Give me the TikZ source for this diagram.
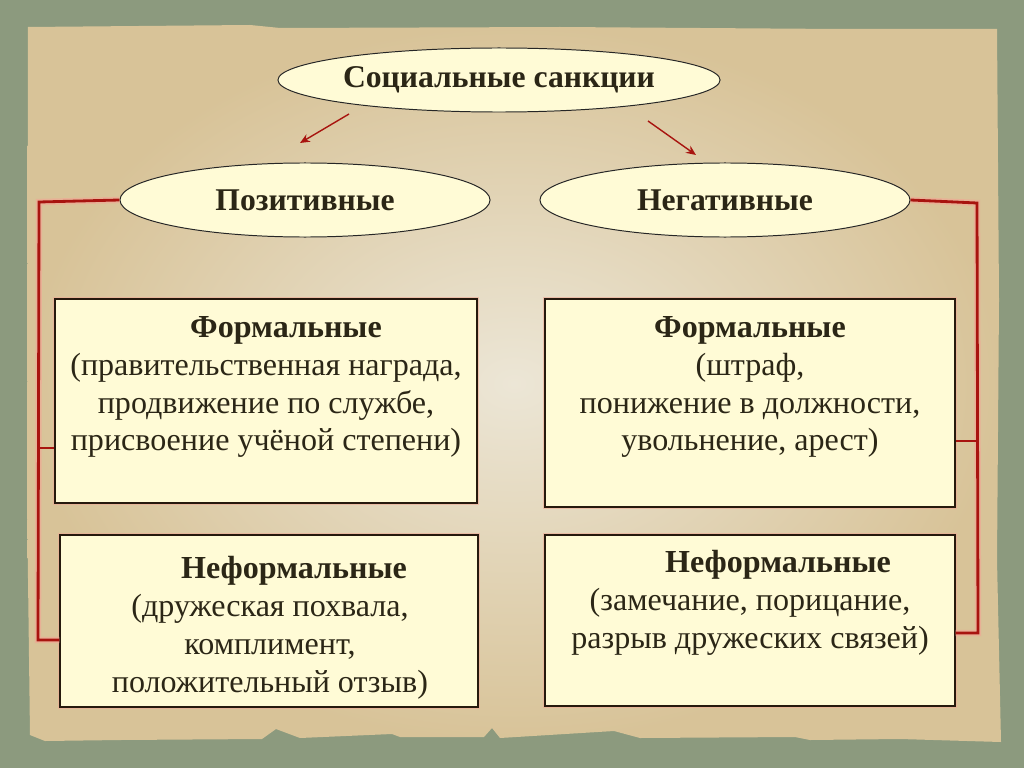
\documentclass[tikz,border=0pt]{standalone}
\usepackage{fontspec}
\setmainfont{Liberation Serif}
\usepackage{xcolor}
\usetikzlibrary{arrows.meta,shapes.geometric}

\definecolor{felt}{HTML}{8C9A7E}
\definecolor{paperin}{HTML}{ECE6D6}
\definecolor{paperout}{HTML}{D8C398}
\definecolor{cream}{HTML}{FFFBD6}
\definecolor{sanred}{HTML}{A8140F}
\definecolor{halo}{HTML}{EFA995}
\definecolor{ink}{HTML}{2B2616}

\tikzset{
  oval/.style={ellipse, draw=black!85, line width=0.7pt, fill=cream,
    inner sep=0pt, text=ink, font=\fontsize{22.5}{26}\selectfont\bfseries},
  card/.style={rectangle, draw=black!80!brown, line width=0.9pt, fill=cream,
    preaction={draw=halo, line width=3pt, opacity=0.6}},
  txt/.style={align=center, inner sep=0pt, text=ink,
    font=\fontsize{22.8}{27}\selectfont},
  bracket/.style={draw=sanred, line width=2pt, line join=miter,
    preaction={draw=halo, line width=4.5pt, opacity=0.7}},
  pointer/.style={draw=sanred, line width=1pt, -{Stealth[length=7pt,width=6pt]}}
}

\begin{document}
\begin{tikzpicture}[x=0.025cm,y=-0.025cm]
  \useasboundingbox (0,0) rectangle (1024,768);
  \fill[felt] (0,0) rectangle (1024,768);
  % paper sheet
  \shade[inner color=paperin, outer color=paperout]
    (28,27) -- (250,25) -- (280,28) -- (560,27) -- (840,29) -- (997,29)
    -- (999,300) -- (997,560) -- (1001,742)
    -- (900,739) -- (810,740) -- (795,737) -- (640,738) -- (614,731)
    -- (500,738) -- (492,728) -- (484,737) -- (400,737) -- (392,734)
    -- (300,738) -- (276,729) -- (262,739) -- (120,740) -- (45,741)
    -- (30,735) -- (27,500) -- cycle;

  % ellipses
  \node[oval, minimum width=11.05cm, minimum height=1.6cm] (root) at (499,80) {Социальные санкции};
  \node[oval, minimum width=9.25cm, minimum height=1.85cm] (pos) at (305,200) {Позитивные};
  \node[oval, minimum width=9.25cm, minimum height=1.85cm] (neg) at (725,200) {Негативные};

  % boxes
  \node[card, minimum width=10.55cm, minimum height=5.1cm] (f-pos) at (266,401) {};
  \node[card, minimum width=10.45cm, minimum height=4.3cm] (nf-pos) at (269,621) {};
  \node[card, minimum width=10.25cm, minimum height=5.2cm] (f-neg) at (750,403) {};
  \node[card, minimum width=10.25cm, minimum height=4.28cm] (nf-neg) at (750,620.5) {};

  % texts
  \node[txt] (f-pos-t) at (266,387) {\hspace*{1cm}\textbf{Формальные}\\
    (правительственная награда,\\ продвижение по службе,\\ присвоение учёной степени)};
  \node[txt] (nf-pos-t) at (270,628) {\hspace*{1.2cm}\textbf{Неформальные}\\
    (дружеская похвала,\\ комплимент,\\ положительный отзыв)};
  \node[txt] (f-neg-t) at (750,387) {\textbf{Формальные}\\
    (штраф,\\ понижение в должности,\\ увольнение, арест)};
  \node[txt] (nf-neg-t) at (750,603) {\hspace*{1.4cm}\textbf{Неформальные}\\
    (замечание, порицание,\\ разрыв дружеских связей)};

  % arrows from the root
  \coordinate (a1) at (349,114);
  \coordinate (a2) at (648,121);
  \draw[pointer] (a1) -- (300,143);
  \draw[pointer] (a2) -- (696,155);

  % left bracket
  \coordinate (lb-top) at (39,202);
  \coordinate (lb-bot) at (38,640);
  \coordinate (lb-mid) at (38,448);
  \draw[bracket] (pos.west) -- (lb-top) -- (lb-bot) -- (lb-bot -| nf-pos.west);
  \draw[sanred, line width=1.2pt] (lb-mid) -- (lb-mid -| f-pos.west);

  % right bracket
  \coordinate (rb-top) at (977,203);
  \coordinate (rb-bot) at (978,633);
  \coordinate (rb-mid) at (978,441);
  \draw[bracket] (neg.east) -- (rb-top) -- (rb-bot) -- (rb-bot -| nf-neg.east);
  \draw[sanred, line width=1.2pt] (rb-mid) -- (rb-mid -| f-neg.east);
\end{tikzpicture}
\end{document}
